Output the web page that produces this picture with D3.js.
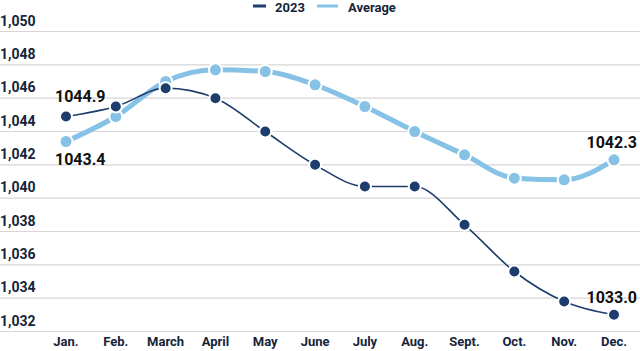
<!DOCTYPE html>
<html lang="en">
  <head>
    <meta charset="UTF-8" />
    <title>2023 vs Average</title>
    <script src="https://d3js.org/d3.v7.min.js"></script>
    <style>
      body { margin: 0; background: #fff; }
      text { font-family: "Roboto", "Noto Sans", sans-serif; fill: #16243a; }
    </style>
  </head>
  <body>
    <div id="chart"></div>
    <script>
      var months = ["Jan.", "Feb.", "March", "April", "May", "June", "July", "Aug.", "Sept.", "Oct.", "Nov.", "Dec."];
      var values2023 = [1044.9, 1045.5, 1046.6, 1046.0, 1044.0, 1042.0, 1040.7, 1040.7, 1038.4, 1035.6, 1033.8, 1033.0];
      var valuesAvg = [1043.4, 1044.9, 1047.0, 1047.7, 1047.6, 1046.8, 1045.5, 1044.0, 1042.6, 1041.2, 1041.1, 1042.3];
      var yTicks = [1032, 1034, 1036, 1038, 1040, 1042, 1044, 1046, 1048, 1050];
      var labels = [
        { series: "2023", i: 0, text: "1044.9" },
        { series: "avg", i: 0, text: "1043.4" },
        { series: "avg", i: 11, text: "1042.3" },
        { series: "2023", i: 11, text: "1033.0" }
      ];

      var width = 640, height = 351;
      var dark = "#1d3d6c", light = "#86c1e6";

      var svg = d3.select("#chart").append("svg")
        .attr("width", width)
        .attr("height", height);

      var x = d3.scalePoint().domain(months).range([66, 614]);
      var y = d3.scaleLinear().domain([1032, 1050]).range([331.5, 31.5]);

      // grid + tick labels
      var grid = svg.append("g");
      yTicks.forEach(function (t) {
        grid.append("line")
          .attr("x1", 0).attr("x2", width)
          .attr("y1", y(t)).attr("y2", y(t))
          .attr("stroke", "#d6d6d6").attr("stroke-width", 1.2);
        grid.append("text")
          .attr("x", 0).attr("y", y(t) - 6)
          .style("font-size", "14px").style("font-weight", "bold")
          .text(d3.format(",")(t));
      });

      svg.append("g").selectAll("text").data(months).join("text")
        .attr("x", function (d) { return x(d); })
        .attr("y", 346)
        .attr("text-anchor", "middle")
        .style("font-size", "13px").style("font-weight", "bold")
        .text(function (d) { return d; });

      var line = d3.line()
        .x(function (d, i) { return x(months[i]); })
        .y(function (d) { return y(d); })
        .curve(d3.curveMonotoneX);

      // average
      svg.append("path").datum(valuesAvg)
        .attr("fill", "none").attr("stroke", light).attr("stroke-width", 5)
        .attr("d", line);
      svg.append("g").selectAll("circle").data(valuesAvg).join("circle")
        .attr("cx", function (d, i) { return x(months[i]); })
        .attr("cy", function (d) { return y(d); })
        .attr("r", 6.5).attr("fill", light)
        .attr("stroke", "#fff").attr("stroke-width", 2);

      // 2023
      svg.append("path").datum(values2023)
        .attr("fill", "none").attr("stroke", dark).attr("stroke-width", 1.6)
        .attr("d", line);
      svg.append("g").selectAll("circle").data(values2023).join("circle")
        .attr("cx", function (d, i) { return x(months[i]); })
        .attr("cy", function (d) { return y(d); })
        .attr("r", 6).attr("fill", dark)
        .attr("stroke", "#fff").attr("stroke-width", 2);

      // value labels
      labels.forEach(function (l) {
        var v = l.series == "2023" ? values2023[l.i] : valuesAvg[l.i];
        var px = x(months[l.i]);
        var py = y(v);
        var dy = l.i == 0 ? -15 : -12;
        if (l.series == "avg" && l.i == 0) dy = 23;
        svg.append("text")
          .attr("x", l.i == 0 ? px - 11 : px + 23)
          .attr("y", py + dy)
          .attr("text-anchor", l.i == 0 ? "start" : "end")
          .style("font-size", "16px").style("font-weight", "bold")
          .style("fill", "#111")
          .text(l.text);
      });

      // legend
      var leg = svg.append("g");
      leg.append("line").attr("x1", 253).attr("x2", 266).attr("y1", 6).attr("y2", 6)
        .attr("stroke", dark).attr("stroke-width", 3);
      leg.append("text").attr("x", 275).attr("y", 12)
        .style("font-size", "13px").style("font-weight", "bold").text("2023");
      leg.append("line").attr("x1", 317).attr("x2", 338).attr("y1", 6).attr("y2", 6)
        .attr("stroke", light).attr("stroke-width", 3);
      leg.append("text").attr("x", 348).attr("y", 12)
        .style("font-size", "13px").style("font-weight", "bold").text("Average");
    </script>
  </body>
</html>
